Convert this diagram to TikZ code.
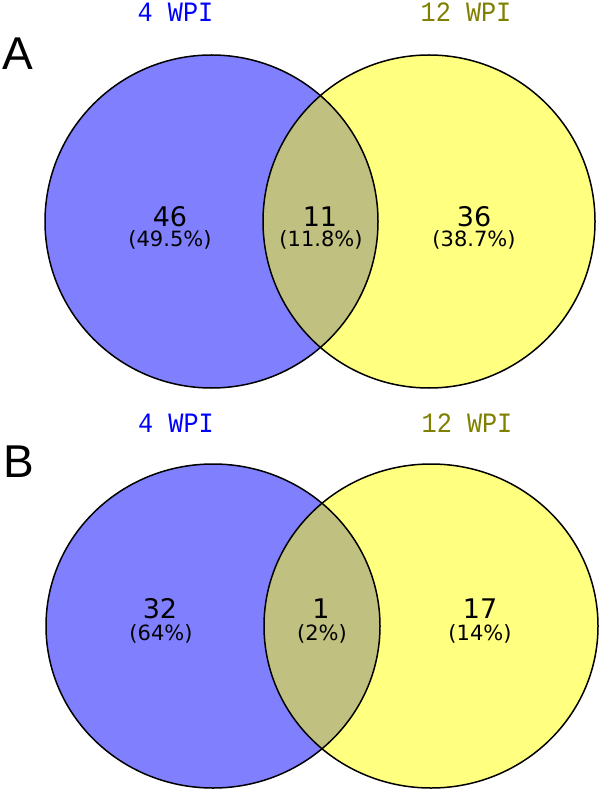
\documentclass[tikz,border=0pt]{standalone}
\usepackage{fontspec}
\setmainfont{DejaVu Sans}
\newfontfamily\titlefont{Liberation Mono}
\newfontfamily\panelfont{Liberation Sans}
\definecolor{setblue}{RGB}{128,128,255}
\definecolor{setyellow}{RGB}{255,255,128}
\definecolor{setboth}{RGB}{192,192,128}
\definecolor{labblue}{RGB}{0,0,255}
\definecolor{labolive}{RGB}{128,128,0}
\begin{document}
\begin{tikzpicture}[x=1pt,y=-1pt,
  outline/.style={draw=black,line width=1.5pt},
  count/.style={inner sep=0,anchor=base,font=\fontsize{27}{27}\selectfont},
  pct/.style={inner sep=0,anchor=base,font=\fontsize{21}{21}\selectfont},
  settitle/.style={inner sep=0,anchor=base,font=\titlefont\fontsize{28}{28}\selectfont,xscale=0.9},
  panel/.style={inner sep=0,anchor=base west,font=\panelfont\fontsize{46}{46}\selectfont}]
\useasboundingbox (0,0) rectangle (600,791);
\fill[white] (0,0) rectangle (600,791);
% ---------- Panel A ----------
\fill[setblue] (211.5,221.5) ellipse[x radius=166.5,y radius=166.5];
\fill[setyellow] (429,221.5) ellipse[x radius=166,y radius=166.5];
\begin{scope}
  \clip (211.5,221.5) ellipse[x radius=166.5,y radius=166.5];
  \fill[setboth] (429,221.5) ellipse[x radius=166,y radius=166.5];
\end{scope}
\draw[outline] (211.5,221.5) ellipse[x radius=166.5,y radius=166.5];
\draw[outline] (429,221.5) ellipse[x radius=166,y radius=166.5];
\node[settitle,text=labblue] (a4) at (175.5,22) {4 WPI};
\node[settitle,text=labolive] (a12) at (466,22) {12 WPI};
\node[panel] (pa) at (2,70) {A};
\node[count] (a46) at (170,227) {46};
\node[pct] (a46p) at (170,247) {(49.5\%)};
\node[count] (a11) at (320,227) {11};
\node[pct] (a11p) at (321,247) {(11.8\%)};
\node[count] (a36) at (474,227) {36};
\node[pct] (a36p) at (474,247) {(38.7\%)};
% ---------- Panel B ----------
\fill[setblue] (213,626) ellipse[x radius=167,y radius=162];
\fill[setyellow] (431,626) ellipse[x radius=167,y radius=162];
\begin{scope}
  \clip (213,626) ellipse[x radius=167,y radius=162];
  \fill[setboth] (431,626) ellipse[x radius=167,y radius=162];
\end{scope}
\draw[outline] (213,626) ellipse[x radius=167,y radius=162];
\draw[outline] (431,626) ellipse[x radius=167,y radius=162];
\node[settitle,text=labblue] (b4) at (176,432) {4 WPI};
\node[settitle,text=labolive] (b12) at (467,432) {12 WPI};
\node[panel] (pb) at (3,477) {B};
\node[count] (b32) at (160,618) {32};
\node[pct] (b32p) at (161,640) {(64\%)};
\node[count] (b1) at (321,618) {1};
\node[pct] (b1p) at (322,640) {(2\%)};
\node[count] (b17) at (480,618) {17};
\node[pct] (b17p) at (480,640) {(14\%)};
\end{tikzpicture}
\end{document}
